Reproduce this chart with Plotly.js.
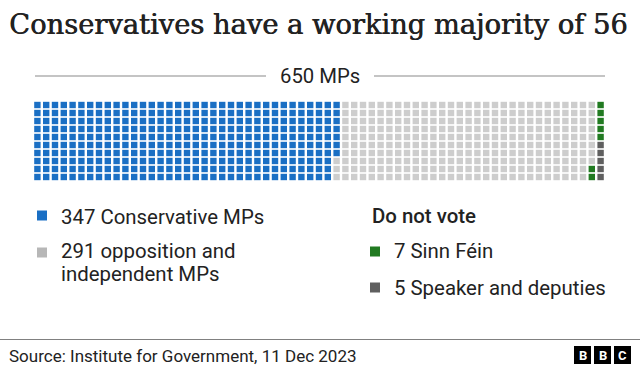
<!DOCTYPE html>
<html>
<head>
<meta charset="utf-8">
<script src="https://cdn.plot.ly/plotly-3.0.1.min.js"></script>
<style>
html,body{margin:0;padding:0;background:#fff;}
#chart{width:640px;height:371px;}
</style>
</head>
<body>
<div id="chart"></div>
<script>
// ---- data ----
const groups = ["Conservative", "Opposition and independent", "Sinn Féin", "Speaker and deputies"];
const seats = [347, 291, 7, 5];
const colors = ["#1a6fc4", "#cdcdcd", "#217a21", "#5f5f5f"];
const legendColors = ["#1a6fc4", "#b7b7b7", "#217a21", "#5f5f5f"];
const legendLabels = ["347 Conservative MPs", "291 opposition and", "independent MPs", "7 Sinn Féin", "5 Speaker and deputies"];
const totalLabel = "650 MPs";
const rows = 10;

// ---- helpers ----
const W = 640, H = 371;
const px = x => x / W;
const py = y => 1 - y / H;
const sans = "Roboto, 'Noto Sans', sans-serif";

// waffle: fill column-major, top to bottom
const traces = [];
let idx = 0;
groups.forEach((g, gi) => {
  const xs = [], ys = [];
  for (let k = 0; k < seats[gi]; k++) {
    xs.push(Math.floor(idx / rows));
    ys.push(idx % rows);
    idx++;
  }
  traces.push({
    type: "scatter", mode: "markers", x: xs, y: ys, name: g,
    marker: {symbol: "square", size: 6.4, color: colors[gi], line: {width: 0}},
    hoverinfo: "skip", showlegend: false
  });
});
const nCols = Math.ceil(idx / rows);

const ann = [];
const txt = (text, x, y, size, opts = {}) => ann.push(Object.assign({
  text, x: px(x), y: py(y), xref: "paper", yref: "paper", showarrow: false,
  xanchor: "left", yanchor: "middle",
  font: {family: sans, size, color: "#222222"}
}, opts));

txt("Conservatives have a working majority of 56", 7, 24.5, 27,
    {font: {family: "'DejaVu Serif', serif", size: 27.3, color: "#222222",
            shadow: "0.6px 0px 0px #222222"}});
txt(totalLabel, 320, 76, 20.3, {xanchor: "center"});
txt(legendLabels[0], 59, 217.5, 20.4);
txt(legendLabels[1], 59, 251, 20.4);
txt(legendLabels[2], 59, 274, 20.4);
txt("Do not vote", 370, 216, 20.4, {font: {family: sans, size: 20.4, color: "#222222", weight: 500}});
txt(legendLabels[3], 392, 251, 20.4);
txt(legendLabels[4], 392, 288, 20.4);
txt("Source: Institute for Government, 11 Dec 2023", 7, 355.5, 17);
// BBC logo letters
const logoX = [574, 594, 614];
["B", "B", "C"].forEach((l, i) => txt(l, logoX[i] + 8.5, 355.5, 13,
  {xanchor: "center", font: {family: sans, size: 13, color: "#ffffff", weight: 700}}));

const shapes = [];
const rect = (x0, y0, x1, y1, color) => shapes.push({
  type: "rect", xref: "paper", yref: "paper", x0: px(x0), x1: px(x1), y0: py(y1), y1: py(y0),
  fillcolor: color, line: {width: 0}
});
const line = (x0, y0, x1, y1, color, w) => shapes.push({
  type: "line", xref: "paper", yref: "paper", x0: px(x0), x1: px(x1), y0: py(y0), y1: py(y1),
  line: {color, width: w}
});
line(35, 76, 266, 76, "#b0b0b0", 1.3);
line(374, 76, 605, 76, "#b0b0b0", 1.3);
rect(37, 210.5, 47, 220.5, legendColors[0]);
rect(37, 247.5, 47, 257.5, legendColors[1]);
rect(370, 246.5, 380, 256.5, legendColors[2]);
rect(370, 282.5, 380, 292.5, legendColors[3]);
line(0, 339.5, 640, 339.5, "#808080", 1);
logoX.forEach(x => rect(x, 346, x + 17, 364, "#000000"));

const layout = {
  width: W, height: H, margin: {l: 0, r: 0, t: 0, b: 0},
  paper_bgcolor: "#ffffff", plot_bgcolor: "#ffffff",
  xaxis: {domain: [px(33), px(605)], range: [-0.5, nCols - 0.5], visible: false, fixedrange: true},
  yaxis: {domain: [py(181), py(101)], range: [rows - 0.5, -0.5], visible: false, fixedrange: true},
  annotations: ann, shapes: shapes, showlegend: false
};
Plotly.newPlot("chart", traces, layout, {staticPlot: true, displayModeBar: false});
</script>
</body>
</html>
